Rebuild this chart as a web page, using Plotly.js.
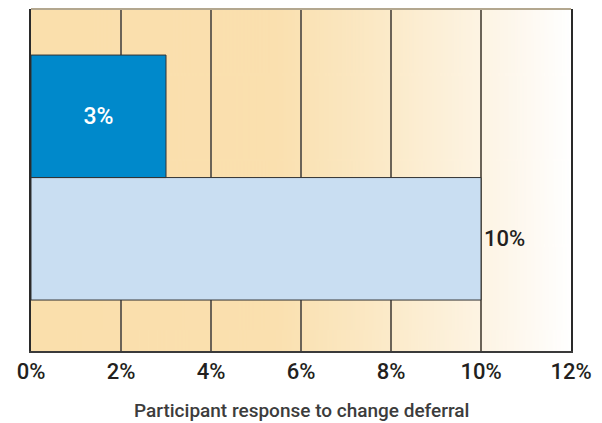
<!DOCTYPE html>
<html>
<head>
<meta charset="utf-8">
<script src="https://cdn.plot.ly/plotly-3.0.1.min.js"></script>
<style>
  html, body { margin: 0; padding: 0; background: #ffffff; }
  #chart { width: 602px; height: 423px; }
</style>
</head>
<body>
<div id="chart"></div>
<script>
// ---- data ----
const categories = ['Response B', 'Response A'];   // bottom, top
const values = [10, 3];
const barColors = ['#C9DEF2', '#0089CB'];
const labelPositions = ['outside', 'inside'];
const xTickValues = [0, 2, 4, 6, 8, 10, 12];
const xTickLabels = ['0%', '2%', '4%', '6%', '8%', '10%', '12%'];
const xTitle = 'Participant response to change deferral';

const FONT = 'Roboto, "Liberation Sans Narrow", Arial, sans-serif';

// background gradient image (peach -> white)
const cv = document.createElement('canvas');
cv.width = 600; cv.height = 8;
const ctx = cv.getContext('2d');
const g = ctx.createLinearGradient(0, 0, 600, 0);
g.addColorStop(0.00, '#FADFAC');
g.addColorStop(0.45, '#FAE0AF');
g.addColorStop(0.62, '#FBE8C3');
g.addColorStop(0.80, '#FDF2DE');
g.addColorStop(0.92, '#FEF9F1');
g.addColorStop(1.00, '#FFFFFF');
ctx.fillStyle = g;
ctx.fillRect(0, 0, 600, 8);
const bgSrc = cv.toDataURL('image/png');

const trace = {
  type: 'bar',
  orientation: 'h',
  y: categories,
  x: values,
  width: 1,
  marker: { color: barColors, line: { color: '#333333', width: 1 } },
  text: values.map(v => v + '%'),
  textposition: labelPositions,
  insidetextanchor: 'middle',
  insidetextfont: { family: FONT, size: 23, weight: 500, color: '#ffffff' },
  outsidetextfont: { family: FONT, size: 22, weight: 500, color: '#231F20' },
  cliponaxis: false,
  hoverinfo: 'none'
};

const layout = {
  width: 602, height: 423,
  margin: { l: 31, r: 31, t: 9, b: 72 },
  paper_bgcolor: '#ffffff',
  plot_bgcolor: 'rgba(0,0,0,0)',
  showlegend: false,
  bargap: 0,
  font: { family: FONT, color: '#231F20' },
  images: [{
    source: bgSrc, xref: 'paper', yref: 'paper',
    x: 0, y: 1, sizex: 1, sizey: 1,
    sizing: 'stretch', xanchor: 'left', yanchor: 'top', layer: 'below'
  }],
  xaxis: {
    range: [0, 12],
    tickvals: xTickValues,
    ticktext: xTickLabels,
    tickfont: { family: FONT, size: 22, weight: 500, color: '#231F20' },
    ticks: '',
    ticklen: 0,
    showgrid: true,
    gridcolor: '#6B6357',
    gridwidth: 1.5,
    zeroline: false,
    showline: true,
    linecolor: '#3A3A3A',
    linewidth: 2,
    fixedrange: true
  },
  yaxis: {
    type: 'category',
    range: [-0.916, 1.876],
    showticklabels: false,
    ticks: '',
    showgrid: false,
    zeroline: false,
    showline: true,
    mirror: true,
    linecolor: '#2A2A2A',
    linewidth: 2,
    fixedrange: true
  },
  annotations: [{
    text: xTitle, xref: 'paper', yref: 'paper',
    x: 0.5, y: -0.175, xanchor: 'center', yanchor: 'middle',
    showarrow: false,
    font: { family: FONT, size: 19, weight: 500, color: '#3C3C3C' }
  }],
  shapes: [{
    type: 'line', xref: 'paper', yref: 'paper',
    x0: 0, x1: 1, y0: 1, y1: 1,
    line: { color: '#B3A78F', width: 2 }
  }]
};

Plotly.newPlot('chart', [trace], layout, { staticPlot: true, displayModeBar: false });
</script>
</body>
</html>
